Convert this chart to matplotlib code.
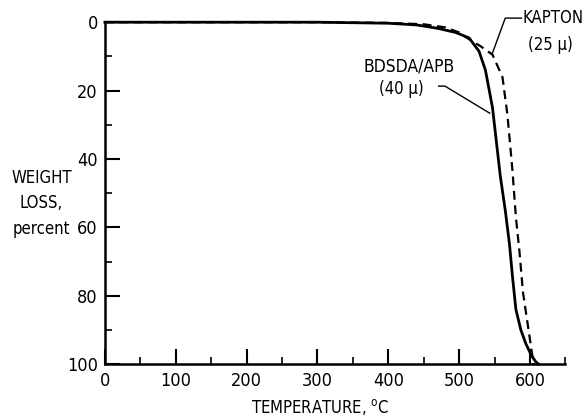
import matplotlib
matplotlib.use("Agg")
import matplotlib.pyplot as plt
from matplotlib.ticker import MultipleLocator

# BDSDA/APB film (40 micron), solid curve
bdsda_temp = [0, 100, 200, 300, 400, 440, 470, 495, 514, 528, 537, 547, 558, 565, 571, 575, 580, 587, 594, 602, 608, 612]
bdsda_loss = [0, 0, 0, 0, 0.3, 0.8, 1.8, 3.0, 4.6, 8.5, 14, 25, 45, 55, 65, 74, 84, 90, 94, 97.5, 99.3, 100]

# Kapton film (25 micron), dashed curve
kapton_temp = [0, 100, 200, 300, 400, 450, 480, 500, 514, 530, 547, 561, 568, 575, 580, 585, 590, 595, 600, 605]
kapton_loss = [0, 0, 0, 0, 0.2, 0.6, 1.5, 3, 5, 7, 9.5, 16, 27, 43, 57, 67, 79, 86, 93, 100]

x_ticks = [0, 100, 200, 300, 400, 500, 600]
y_ticks = [0, 20, 40, 60, 80, 100]

plt.rcParams["font.family"] = ["DejaVu Sans"]
plt.rcParams["font.stretch"] = "condensed"

fig = plt.figure(figsize=(5.86, 4.19), dpi=100)
ax = fig.add_axes([0.179, 0.131, 0.786, 0.816])

ax.plot(bdsda_temp, bdsda_loss, color="black", lw=2, clip_on=False)
ax.plot(kapton_temp, kapton_loss, color="black", lw=1.6, ls=(0, (4, 2.5)), clip_on=False)

ax.set_xlim(0, 650)
ax.set_ylim(100, 0)
ax.spines["top"].set_visible(False)
ax.spines["right"].set_visible(False)
ax.spines["left"].set_linewidth(1.8)
ax.spines["bottom"].set_linewidth(1.8)

ax.set_xticks(x_ticks)
ax.xaxis.set_minor_locator(MultipleLocator(50))
ax.set_yticks(y_ticks)
ax.yaxis.set_minor_locator(MultipleLocator(10))
ax.tick_params(axis="both", which="major", direction="in", length=11, width=1.5,
               labelsize=13, pad=5)
ax.tick_params(axis="both", which="minor", direction="in", length=5, width=1.2)
ax.tick_params(axis="x", which="major", pad=6)

ax.set_xlabel("TEMPERATURE, $^{\\mathrm{o}}$C", fontsize=12)
ax.xaxis.set_label_coords(0.467, -0.097)
fig.text(0.071, 0.515, "WEIGHT\nLOSS,\npercent", ha="center", va="center",
         fontsize=12, linespacing=1.55)

# curve labels with leader lines
ax.text(590, -1.2, "KAPTON", fontsize=12, ha="left", va="center")
ax.text(629, 6.7, "(25 \u03bc)", fontsize=12, ha="center", va="center")
ax.plot([588, 565, 547], [-1.2, -1.2, 9], color="black", lw=1, clip_on=False)

ax.text(429, 12.9, "BDSDA/APB", fontsize=12.5, ha="center", va="center")
ax.text(419, 19.6, "(40 \u03bc)", fontsize=12, ha="center", va="center")
ax.plot([471, 480, 543], [18.7, 18.7, 26.6], color="black", lw=1)

fig.savefig("out.png", dpi=100)
